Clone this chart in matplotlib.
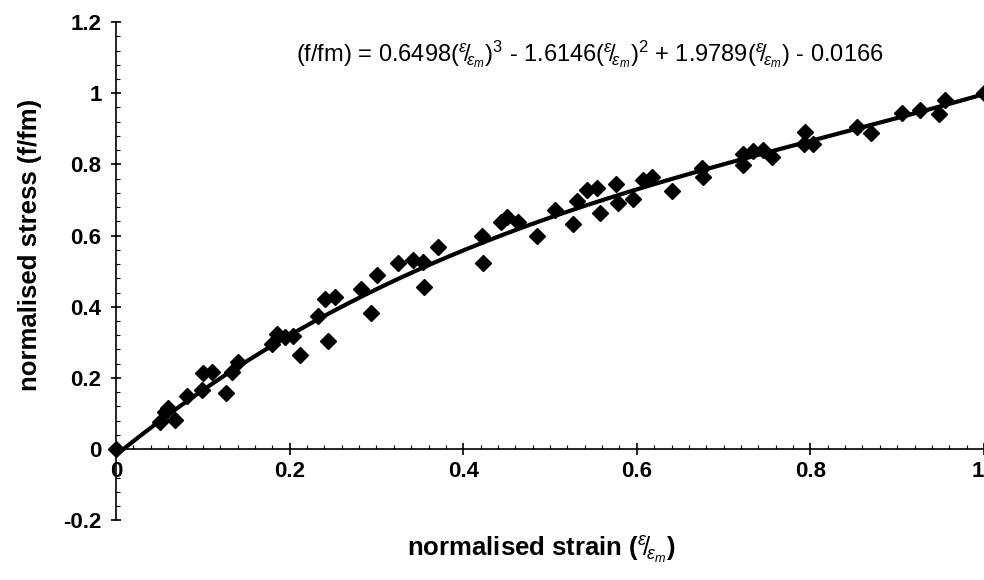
import numpy as np
import matplotlib.pyplot as plt
from matplotlib.ticker import MultipleLocator, AutoMinorLocator

plt.rcParams['font.family'] = ['Liberation Sans', 'DejaVu Sans']
plt.rcParams['mathtext.fontset'] = 'custom'
plt.rcParams['mathtext.rm'] = 'Liberation Sans'
plt.rcParams['mathtext.it'] = 'Liberation Sans:italic'
plt.rcParams['mathtext.bf'] = 'Liberation Sans:bold'

# normalised strain / stress
strain = [0.000, 0.051, 0.056, 0.060, 0.068, 0.082, 0.099, 0.100, 0.111, 0.127,
          0.134, 0.141, 0.180, 0.185, 0.195, 0.204, 0.212, 0.233, 0.241, 0.252,
          0.244, 0.282, 0.294, 0.301, 0.325, 0.342, 0.354, 0.355, 0.371, 0.422,
          0.423, 0.444, 0.450, 0.463, 0.485, 0.506, 0.526, 0.531, 0.543, 0.554,
          0.558, 0.576, 0.578, 0.596, 0.607, 0.618, 0.641, 0.675, 0.676, 0.722,
          0.722, 0.734, 0.745, 0.756, 0.794, 0.793, 0.803, 0.854, 0.870, 0.906,
          0.926, 0.948, 0.955, 1.000]
stress = [0.000, 0.076, 0.105, 0.116, 0.082, 0.150, 0.167, 0.215, 0.218, 0.159,
          0.218, 0.244, 0.295, 0.323, 0.314, 0.317, 0.263, 0.374, 0.422, 0.428,
          0.303, 0.450, 0.382, 0.490, 0.524, 0.530, 0.527, 0.456, 0.569, 0.598,
          0.524, 0.637, 0.652, 0.637, 0.598, 0.671, 0.632, 0.697, 0.728, 0.734,
          0.663, 0.745, 0.691, 0.703, 0.756, 0.765, 0.725, 0.790, 0.765, 0.830,
          0.799, 0.839, 0.841, 0.822, 0.892, 0.856, 0.856, 0.904, 0.887, 0.943,
          0.952, 0.941, 0.980, 1.000]

# trendline coefficients (highest power first)
coef = [0.6498, -1.6146, 1.9789, -0.0166]

fig = plt.figure(figsize=(9.84, 5.8), dpi=100)
ax = fig.add_axes([0.118, 0.103, 0.882, 0.859])

xs = np.linspace(0, 1, 200)
ax.plot(xs, np.polyval(coef, xs), color='black', lw=3.0, zorder=2)
ax.plot(strain, stress, 'D', color='black', ms=8.5, zorder=3, clip_on=False)

ax.set_xlim(0, 1)
ax.set_ylim(-0.2, 1.2)
ax.spines['top'].set_visible(False)
ax.spines['right'].set_visible(False)
ax.spines['bottom'].set_position(('data', 0))
ax.spines['left'].set_linewidth(1.2)
ax.spines['bottom'].set_linewidth(1.2)

ax.xaxis.set_minor_locator(AutoMinorLocator(10))
ax.yaxis.set_minor_locator(AutoMinorLocator(5))
ax.set_xticks([0, 0.2, 0.4, 0.6, 0.8, 1.0], ['0', '0.2', '0.4', '0.6', '0.8', '1'])
ax.set_yticks([-0.2, 0, 0.2, 0.4, 0.6, 0.8, 1.0, 1.2],
              ['-0.2', '0', '0.2', '0.4', '0.6', '0.8', '1', '1.2'])
ax.tick_params(axis='x', which='major', direction='inout', length=9, width=1.2,
               labelsize=16, pad=4)
ax.tick_params(axis='x', which='minor', direction='in', length=3, width=0.8)
ax.tick_params(axis='y', which='major', direction='inout', length=7, width=1.2,
               labelsize=16, pad=7)
ax.tick_params(axis='y', which='minor', direction='in', length=3, width=0.8)
for lbl in ax.get_xticklabels() + ax.get_yticklabels():
    lbl.set_fontweight('bold')
ax.get_xticklabels()[-1].set_horizontalalignment('right')

frac = r'$^{\varepsilon}\!/\!_{\varepsilon_m}$'
ax.set_xlabel('normalised strain (' + frac + ')', fontsize=18.5, fontweight='bold')
ax.xaxis.set_label_coords(0.49, -0.03)
ax.set_ylabel('normalised stress (f/fm)', fontsize=18.5, fontweight='bold')
ax.yaxis.set_label_coords(-0.085, 0.552)

eq = ('(f/fm) = 0.6498(' + frac + ')$^3$ - 1.6146(' + frac + ')$^2$ + 1.9789('
      + frac + ') - 0.0166')
ax.text(0.546, 1.11, eq, fontsize=17, ha='center', va='center')

fig.savefig('out.png', dpi=100)
